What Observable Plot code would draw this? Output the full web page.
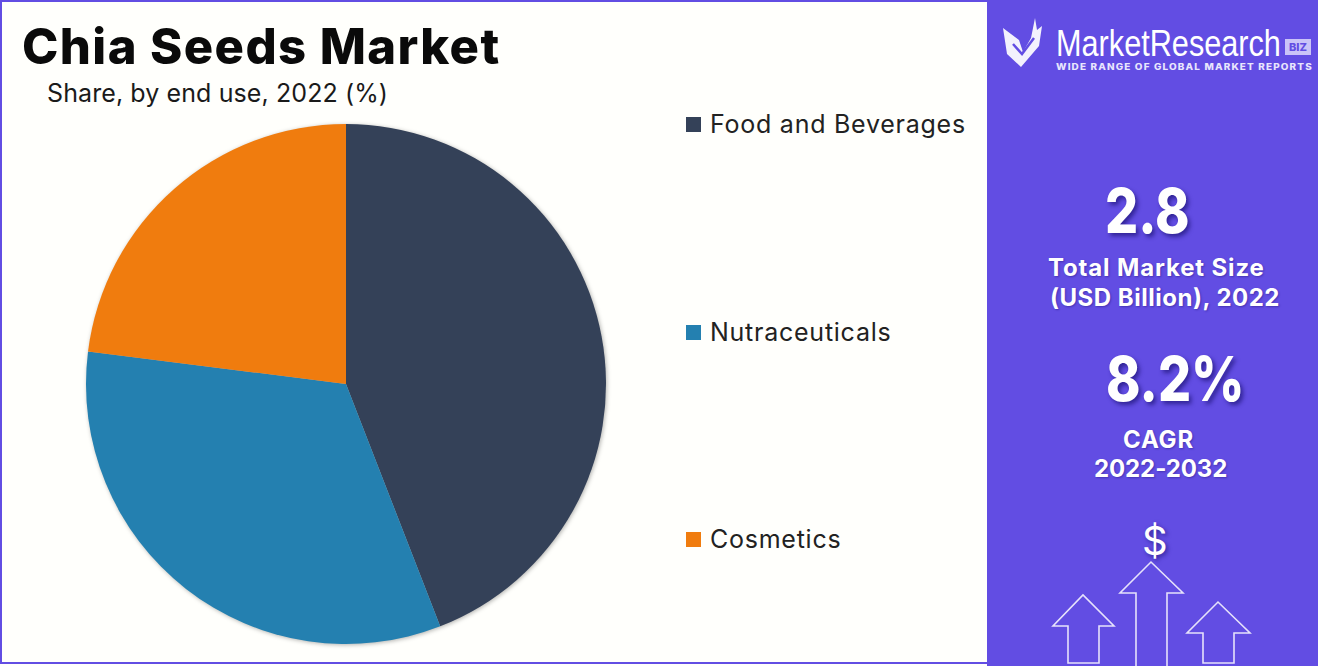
<!DOCTYPE html>
<html>
<head>
<meta charset="utf-8">
<script src="https://cdn.jsdelivr.net/npm/d3@7"></script>
<script src="https://cdn.jsdelivr.net/npm/@observablehq/plot@0.6"></script>
<style>
html,body{margin:0;padding:0;background:#fff;}
#page{position:relative;width:1318px;height:666px;overflow:hidden;background:#fffffc;font-family:Inter,"Open Sans",sans-serif;}
#page .frame{position:absolute;left:0;top:0;width:1314px;height:660px;border:2px solid #624de3;pointer-events:none;}
#chart{position:absolute;left:0;top:0;}
#chart svg{display:block;background:transparent;}
.t{position:absolute;white-space:nowrap;line-height:1;}
#title{left:22px;top:22px;font-size:49px;font-weight:800;color:#0a0a0a;letter-spacing:1.4px;}
#subtitle{left:47px;top:81px;font-size:25px;font-weight:400;color:#1a1a1a;letter-spacing:0.1px;}
.sw{position:absolute;left:686px;width:15px;height:15px;}
.lg{position:absolute;left:710px;font-size:25px;color:#222;white-space:nowrap;line-height:1;letter-spacing:0.75px;}
#panel{position:absolute;left:987px;top:0;width:331px;height:666px;background:#624de3;}
#panel .w{color:#fff;}
.big{font-size:62px;font-weight:800;text-shadow:3px 3px 5px rgba(25,15,110,.65);transform:scaleX(.84);transform-origin:left center;}
.mid{font-size:24px;font-weight:700;color:#f6f4ff;text-shadow:1px 1px 2px rgba(25,15,110,.4);}
#v1{left:118px;top:180px;}
#l1a{left:61px;top:256px;letter-spacing:0.85px;}
#l1b{left:63px;top:286px;letter-spacing:0.5px;}
#v2{left:119px;top:348px;}
#l2a{left:136px;top:428px;letter-spacing:0.8px;}
#l2b{left:107px;top:457px;letter-spacing:-0.1px;}
#dollar{left:155px;top:521px;font-size:40px;font-weight:400;text-shadow:2px 2px 4px rgba(25,15,110,.6);}
#deco{position:absolute;left:0;top:0;}
</style>
</head>
<body>
<div id="page">
  <div id="chart"></div>
  <div class="frame"></div>
  <div id="head"></div>
  <div id="legend"></div>
  <div id="panel">
    <svg id="deco" width="331" height="666" viewBox="0 0 331 666"></svg>
  </div>
</div>
<script>
const categories = ["Food and Beverages", "Nutraceuticals", "Cosmetics"];
const shares = [44.1, 32.9, 23.0];
const colors = ["#344158", "#2480b0", "#f07c0e"];
const titleText = "Chia Seeds Market";
const subtitleText = "Share, by end use, 2022 (%)";
const kpiText = ["2.8", "Total Market Size", "(USD Billion), 2022", "8.2%", "CAGR", "2022-2032"];
const kpiIds = ["v1", "l1a", "l1b", "v2", "l2a", "l2b"];
const kpiClasses = ["big", "mid", "mid", "big", "mid", "mid"];
const brandText = ["MarketResearch", "BIZ", "WIDE RANGE OF GLOBAL MARKET REPORTS", "$"];

const rows = categories.map((name, i) => ({name, share: shares[i]}));

function pieRender(index, scales, values, dimensions) {
  const {width, height, marginLeft, marginRight, marginTop, marginBottom} = dimensions;
  const w = width - marginLeft - marginRight, h = height - marginTop - marginBottom;
  const cx = marginLeft + w / 2, cy = marginTop + h / 2, r = Math.min(w, h) / 2;
  const rad = Math.PI / 180;
  const arc = d3.arc().innerRadius(0).outerRadius(r);
  const g = d3.create("svg:g")
    .attr("transform", `translate(${cx},${cy})`)
    .style("filter", "drop-shadow(1px 1px 2px rgba(0,0,0,.3))");
  for (const i of index) {
    g.append("path")
      .attr("d", arc({startAngle: values.x1[i] * rad, endAngle: values.x2[i] * rad}))
      .attr("fill", values.fill[i]);
  }
  return g.node();
}

const plot = Plot.plot({
  width: 692, height: 666,
  marginTop: 124, marginBottom: 22, marginLeft: 86, marginRight: 86,
  style: {background: "transparent", overflow: "visible"},
  x: {domain: [0, 100], range: [0, 360], axis: null},
  color: {domain: categories, range: colors, legend: false},
  marks: [
    Plot.barX(rows, Plot.stackX({x: "share", fill: "name", order: null, render: pieRender}))
  ]
});
document.getElementById("chart").append(plot);

const head = d3.select("#head");
head.append("div").attr("id", "title").attr("class", "t").text(titleText);
head.append("div").attr("id", "subtitle").attr("class", "t").text(subtitleText);

const legendTops = {sw: [117, 325, 532], lg: [112, 320, 527]};
const legend = d3.select("#legend");
categories.forEach((c, i) => {
  legend.append("div").attr("class", "sw").style("top", legendTops.sw[i] + "px").style("background", colors[i]);
  legend.append("div").attr("class", "lg").style("top", legendTops.lg[i] + "px").text(c);
});

const panel = d3.select("#panel");
kpiText.forEach((s, i) => {
  panel.append("div").attr("id", kpiIds[i]).attr("class", "t w " + kpiClasses[i]).text(s);
});
panel.append("div").attr("id", "dollar").attr("class", "t w").text(brandText[3]);

const deco = d3.select("#deco");
deco.append("path").attr("fill", "#fff").attr("opacity", .92)
  .attr("d", "M16 28 L32 40 L36 52 L44 38 L48 18 L50 30 L55 26 L52 46 L34 67 L20 54 Z");
deco.append("path").attr("fill", "none").attr("stroke", "#624de3").attr("stroke-width", 2.5)
  .attr("d", "M26 44 L35 54 L47 38");
const brand = deco.append("text").attr("fill", "#fff")
  .attr("font-family", "'Liberation Sans',sans-serif").attr("font-size", 37).text(brandText[0]);
const brandScale = 225 / brand.node().getComputedTextLength();
brand.attr("transform", `translate(69,56) scale(${brandScale},1)`);
deco.append("rect").attr("x", 298).attr("y", 39).attr("width", 26).attr("height", 16).attr("fill", "#ddd8fb").attr("opacity", .85);
deco.append("text").attr("x", 311).attr("y", 51).attr("text-anchor", "middle").attr("fill", "#624de3")
  .attr("font-family", "Inter,sans-serif").attr("font-weight", 800).attr("font-size", 11).text(brandText[1]);
const tag = deco.append("text").attr("fill", "#e8e5fd")
  .attr("font-family", "Inter,sans-serif").attr("font-weight", 800).attr("font-size", 8.5).attr("letter-spacing", 1).text(brandText[2]);
tag.attr("transform", `translate(69,70) scale(${257 / tag.node().getComputedTextLength()},1)`);

const arrowShapes = [
  "M81 663 V626 H66 L96 595 L127 626 H112 V663 Z",
  "M149 666 V593 H133 L164 562 L196 593 H180 V666",
  "M216 663 V633 H200 L231 602 L263 633 H247 V663 Z"
];
arrowShapes.forEach(d => deco.append("path").attr("d", d).attr("fill", "none").attr("stroke", "#e6e2fb").attr("stroke-width", 1.6));
</script>
</body>
</html>
